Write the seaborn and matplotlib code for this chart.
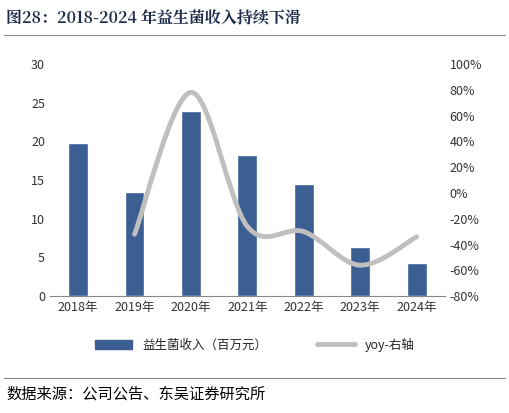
import matplotlib
matplotlib.use("Agg")
import matplotlib.pyplot as plt
import seaborn as sns
import numpy as np
from matplotlib.path import Path
from matplotlib.patches import PathPatch
from matplotlib.lines import Line2D
from matplotlib.patches import Patch

sns.set_style("white")
plt.rcParams['font.family'] = ['Noto Sans CJK SC', 'DejaVu Sans']

years = ["2018年", "2019年", "2020年", "2021年", "2022年", "2023年", "2024年"]
revenue = [19.8, 13.4, 23.9, 18.2, 14.5, 6.4, 4.3]
yoy_years = ["2019年", "2020年", "2021年", "2022年", "2023年", "2024年"]
yoy = [-32, 78, -26, -30, -56, -34]

fig = plt.figure(figsize=(5.09, 4.13), dpi=100)
ax = fig.add_axes([0.098, 0.283, 0.776, 0.562])
bar_color = "#3B5F93"
sns.barplot(x=years, y=revenue, color=bar_color, width=0.35, ax=ax, saturation=1)
ax.set_ylim(0, 30)
ax.set_yticks(range(0, 31, 5))
ax.set_xlim(-0.5, 6.5)
for s in ["top", "right", "left"]:
    ax.spines[s].set_visible(False)
ax.spines["bottom"].set_color("#888888")
ax.tick_params(labelsize=9, colors="#333333", length=0)
ax.set_xlabel(""); ax.set_ylabel("")

ax2 = ax.twinx()
ax2.set_ylim(-80, 100)
ax2.set_yticks(range(-80, 101, 20))
ax2.set_yticklabels([f"{v}%" for v in range(-80, 101, 20)])
for s in ["top", "right", "left", "bottom"]:
    ax2.spines[s].set_visible(False)
ax2.tick_params(labelsize=9, colors="#333333", length=0)

# smooth curve through points (Catmull-Rom as Bezier)
xs = np.array([years.index(y) for y in yoy_years], dtype=float)
ys = np.array(yoy, dtype=float)
P = np.column_stack([xs, ys])
verts = [tuple(P[0])]; codes = [Path.MOVETO]
n = len(P)
for i in range(n - 1):
    p0 = P[i - 1] if i > 0 else P[i]
    p1, p2 = P[i], P[i + 1]
    p3 = P[i + 2] if i + 2 < n else P[i + 1]
    c1 = p1 + (p2 - p0) / 6
    c2 = p2 - (p3 - p1) / 6
    verts += [tuple(c1), tuple(c2), tuple(p2)]
    codes += [Path.CURVE4] * 3
ax2.add_patch(PathPatch(Path(verts, codes), fill=False, edgecolor="#BFBFBF", lw=3.5, capstyle="round"))

handles = [Patch(color=bar_color), Line2D([0], [0], color="#BFBFBF", lw=3.5)]
fig.legend(handles, ["益生菌收入（百万元）", "yoy-右轴"], loc="center", bbox_to_anchor=(0.5, 0.165),
           ncol=2, frameon=False, fontsize=9, handlelength=3, columnspacing=4)

fig.text(0.012, 0.955, "图28：2018-2024 年益生菌收入持续下滑", fontsize=11.5, weight="bold", color="#1F2D4D", va="center",
         family=["Noto Serif CJK SC", "Noto Sans CJK SC", "DejaVu Sans"])
fig.add_artist(Line2D([0.008, 0.992], [0.915, 0.915], color="#888888", lw=0.8))
fig.add_artist(Line2D([0.008, 0.992], [0.085, 0.085], color="#888888", lw=0.8))
fig.text(0.012, 0.045, "数据来源：公司公告、东吴证券研究所", fontsize=11, color="#000000", va="center")

fig.savefig("out.png", dpi=100)
